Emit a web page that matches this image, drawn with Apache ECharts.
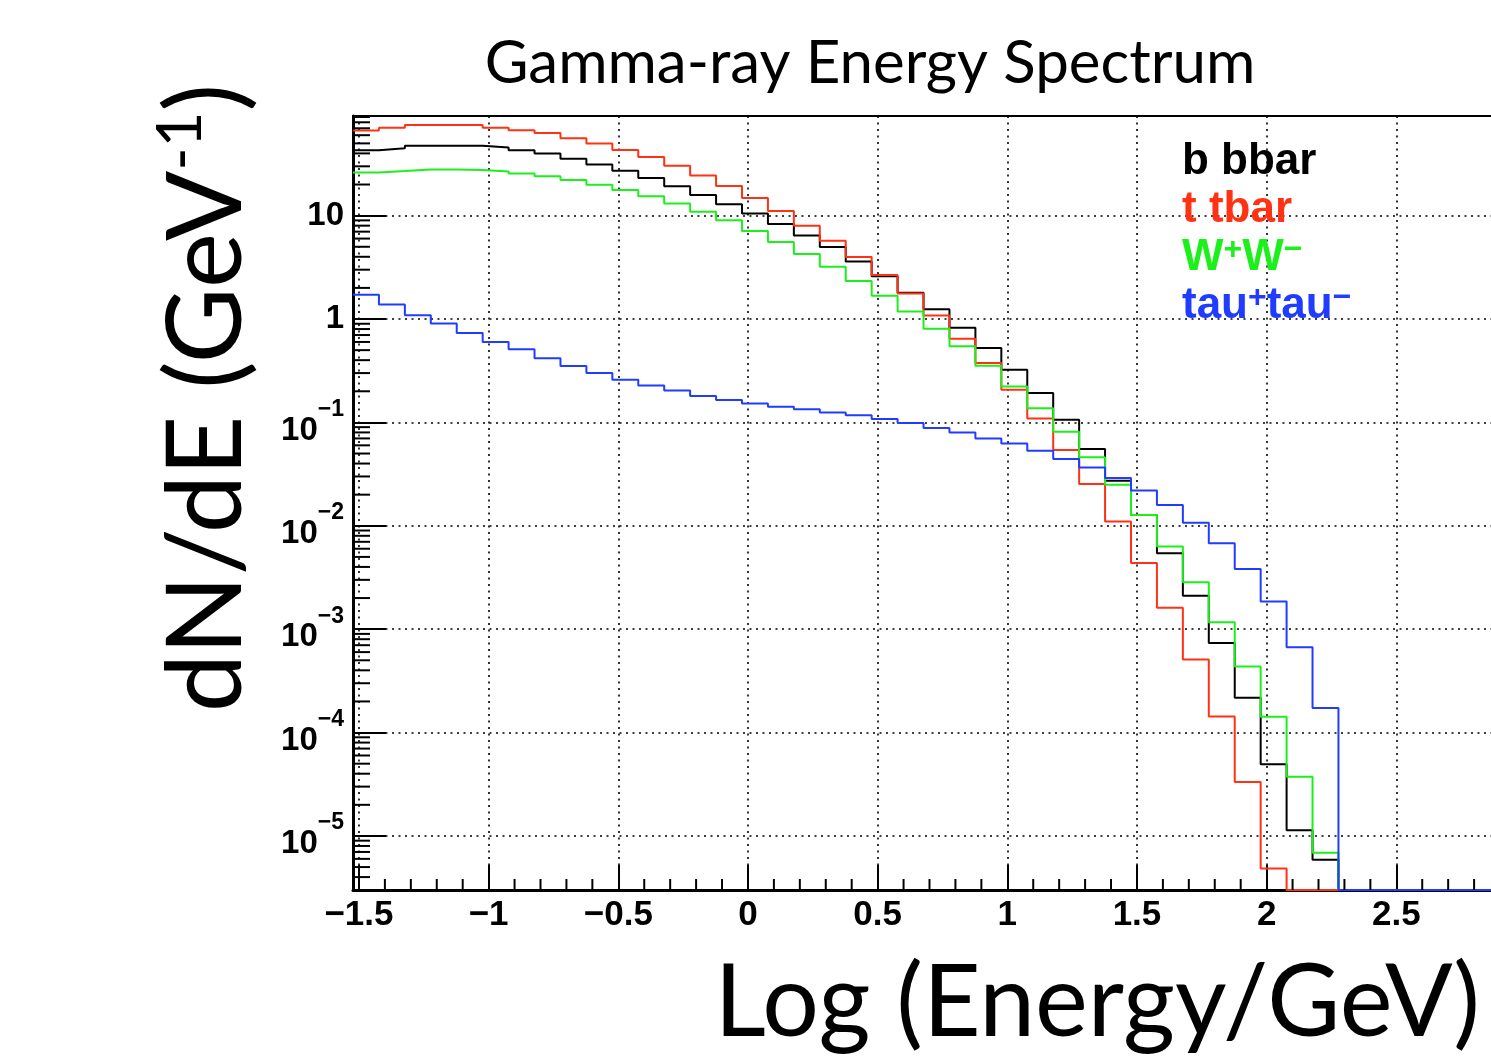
<!DOCTYPE html>
<html>
<head>
<meta charset="utf-8">
<title>Gamma-ray Energy Spectrum</title>
<script src="https://cdn.jsdelivr.net/npm/echarts@6.0.0/dist/echarts.min.js"></script>
<style>
  html, body { margin: 0; padding: 0; background: #fff; }
  #chart { width: 1491px; height: 1061px; }
</style>
</head>
<body>
<div id="chart"></div>
<script>
// histogram bin edges in log10(E/GeV): 45 bins of 0.1 starting at log10(0.03)
var binEdges = [-1.523, -1.423, -1.323, -1.223, -1.123, -1.023, -0.923, -0.823, -0.723, -0.623,
  -0.523, -0.423, -0.323, -0.223, -0.123, -0.023, 0.077, 0.177, 0.277, 0.377,
  0.477, 0.577, 0.677, 0.777, 0.877, 0.977, 1.077, 1.177, 1.277, 1.377,
  1.477, 1.577, 1.677, 1.777, 1.877, 1.977, 2.077, 2.177, 2.277, 2.377,
  2.477, 2.577, 2.677, 2.777, 2.877, 2.977];

// dN/dE per bin (0 = empty bin)
var bbbar = [42.9, 44.8, 47.5, 47.5, 47.5, 45.5, 42.9, 39.8, 35.6, 31.3,
  27.2, 23.1, 19.2, 15.8, 12.9, 10.5, 8.3, 6.44, 4.97, 3.61,
  2.59, 1.80, 1.24, 0.825, 0.524, 0.324, 0.192, 0.106, 0.0552, 0.0273,
  0.0127, 0.00542, 0.00211, 0.000733, 0.000217, 4.93e-5, 1.135e-5, 5.9e-6, 0, 0,
  0, 0, 0, 0, 0];
var ttbar = [66.7, 71.0, 75.2, 75.2, 75.2, 70.9, 66.8, 62.9, 55.9, 50.0,
  43.1, 36.9, 30.4, 24.5, 19.3, 14.8, 11.1, 8.0, 5.73, 3.98,
  2.67, 1.77, 1.08, 0.645, 0.375, 0.207, 0.109, 0.054, 0.0254, 0.0110,
  0.00437, 0.00161, 0.000510, 0.000143, 3.33e-5, 4.84e-6, 0, 0, 0, 0,
  0, 0, 0, 0, 0];
var wwbar = [26.1, 27.0, 28.0, 28.0, 27.6, 26.8, 25.6, 24.1, 22.1, 19.9,
  17.7, 15.4, 13.1, 10.9, 9.0, 7.1, 5.56, 4.26, 3.21, 2.33,
  1.68, 1.18, 0.807, 0.545, 0.354, 0.223, 0.137, 0.0813, 0.0459, 0.0250,
  0.0127, 0.0063, 0.00284, 0.00117, 0.000435, 0.000142, 3.73e-5, 6.86e-6, 0, 0,
  0, 0, 0, 0, 0];
var tautau = [1.72, 1.38, 1.09, 0.903, 0.733, 0.600, 0.509, 0.417, 0.351, 0.301,
  0.259, 0.227, 0.204, 0.180, 0.165, 0.152, 0.142, 0.134, 0.125, 0.117,
  0.108, 0.0985, 0.0881, 0.080, 0.070, 0.0626, 0.0532, 0.0442, 0.0367, 0.029,
  0.0219, 0.0159, 0.0107, 0.00678, 0.00383, 0.00185, 0.00067, 0.000173, 0, 0,
  0, 0, 0, 0, 0];

var seriesNames = ['b bbar', 't tbar', 'W+W-', 'tau+tau-'];
var seriesColors = ['#000000', '#ff3314', '#1bf01b', '#1f3cff'];

// minor tick positions on x (major ticks every 0.5 come from the axis)
var xMinorTicks = [-1.4, -1.3, -1.2, -1.1, -0.9, -0.8, -0.7, -0.6, -0.4, -0.3, -0.2, -0.1,
  0.1, 0.2, 0.3, 0.4, 0.6, 0.7, 0.8, 0.9, 1.1, 1.2, 1.3, 1.4, 1.6, 1.7, 1.8, 1.9,
  2.1, 2.2, 2.3, 2.4, 2.6, 2.7, 2.8, 2.9];
var yDecades = [-6, -5, -4, -3, -2, -1, 0, 1];
var yMinorMult = [2, 3, 4, 5, 6, 7, 8, 9];

var X_MIN = -1.523, X_MAX = 2.977;
var Y_MIN = 3e-6, Y_MAX = 92;
var FONT = 'Liberation Sans';

function histData(vals) {
  var out = [];
  for (var i = 0; i < vals.length; i++) {
    out.push([binEdges[i], vals[i] > 0 ? vals[i] : Y_MIN]);
  }
  var last = vals[vals.length - 1];
  out.push([binEdges[vals.length], last > 0 ? last : Y_MIN]);
  return out;
}

var yMinor = [];
yDecades.forEach(function (d) {
  yMinorMult.forEach(function (m) {
    var v = m * Math.pow(10, d);
    if (v > Y_MIN && v < Y_MAX) yMinor.push([X_MIN, v]);
  });
});
var xMinor = xMinorTicks.map(function (v) { return [v, Y_MIN]; });

var chart = echarts.init(document.getElementById('chart'));

var series = [bbbar, ttbar, wwbar, tautau].map(function (vals, i) {
  return {
    name: seriesNames[i],
    type: 'line',
    step: 'end',
    symbol: 'none',
    data: histData(vals),
    lineStyle: { color: seriesColors[i], width: 2 },
    itemStyle: { color: seriesColors[i] },
    z: 3 + i
  };
});

series.push({
  type: 'custom',
  data: xMinor,
  z: 10,
  renderItem: function (params, api) {
    var p = api.coord([api.value(0), api.value(1)]);
    return { type: 'line', shape: { x1: p[0], y1: p[1], x2: p[0], y2: p[1] - 11 },
      style: { stroke: '#000', lineWidth: 2 } };
  }
});
series.push({
  type: 'custom',
  data: yMinor,
  z: 10,
  renderItem: function (params, api) {
    var p = api.coord([api.value(0), api.value(1)]);
    return { type: 'line', shape: { x1: p[0], y1: p[1], x2: p[0] + 17, y2: p[1] },
      style: { stroke: '#000', lineWidth: 2 } };
  }
});

var dotted = { show: true, lineStyle: { color: '#000', width: 1.6, type: [2, 4.5] } };

var option = {
  animation: false,
  backgroundColor: '#fff',
  grid: {
    left: 353, top: 116, width: 1167, height: 774,
    outerBoundsMode: 'none', containLabel: false,
    show: true, borderColor: '#000', borderWidth: 2
  },
  xAxis: {
    type: 'value', min: X_MIN, max: X_MAX, splitNumber: 9,
    axisLine: { onZero: false, lineStyle: { color: '#000', width: 3 } },
    axisTick: { inside: true, length: 25, lineStyle: { color: '#000', width: 2 } },
    axisLabel: {
      margin: 8, color: '#000', fontFamily: FONT, fontWeight: 'bold', fontSize: 35,
      formatter: function (v) {
        var k = v / 0.5;
        if (Math.abs(k - Math.round(k)) > 1e-6) return '';
        var r = Math.round(k) * 0.5;
        if (r === 0) return '0';
        return (r < 0 ? '\u2212' : '') + Math.abs(r);
      }
    },
    splitLine: dotted
  },
  yAxis: {
    type: 'log', logBase: 10, min: Y_MIN, max: Y_MAX,
    axisLine: { show: true, onZero: false, lineStyle: { color: '#000', width: 3 } },
    axisTick: { show: true, inside: true, length: 33, lineStyle: { color: '#000', width: 2 } },
    axisLabel: {
      margin: 9, color: '#000', fontFamily: FONT, fontWeight: 'bold', fontSize: 33,
      formatter: function (v) {
        var e = Math.log10(v);
        if (Math.abs(e - Math.round(e)) > 1e-6) return '';
        e = Math.round(e);
        if (e === 0) return '1';
        if (e === 1) return '10';
        return '{b|10}{s|\u2212' + Math.abs(e) + '}';
      },
      rich: {
        b: { fontFamily: FONT, fontWeight: 'bold', fontSize: 33, color: '#000', padding: [16, 0, 0, 0] },
        s: { fontFamily: FONT, fontWeight: 'bold', fontSize: 23, color: '#000', lineHeight: 34, verticalAlign: 'top' }
      }
    },
    splitLine: dotted
  },
  legend: {
    orient: 'vertical', left: 1172, top: 133,
    itemWidth: 0, itemHeight: 0, itemGap: 0, selectedMode: false,
    data: seriesNames.map(function (n, i) {
      return { name: n, icon: 'rect', textStyle: { color: seriesColors[i] } };
    }),
    formatter: function (name) {
      if (name === 'W+W-') return 'W{sg|+}W{sg|\u2212}';
      if (name === 'tau+tau-') return 'tau{sb|+}tau{sb|\u2212}';
      return name;
    },
    textStyle: {
      fontFamily: FONT, fontWeight: 'bold', fontSize: 44, lineHeight: 48,
      rich: {
        sg: { fontFamily: FONT, fontWeight: 'bold', fontSize: 32, lineHeight: 30, verticalAlign: 'top', color: seriesColors[2] },
        sb: { fontFamily: FONT, fontWeight: 'bold', fontSize: 32, lineHeight: 30, verticalAlign: 'top', color: seriesColors[3] }
      }
    }
  },
  graphic: [
    {
      type: 'text', x: 870, y: 64,
      style: { text: 'Gamma-ray Energy Spectrum', fontFamily: 'Lato', fontSize: 60,
        fill: '#000', align: 'center', verticalAlign: 'middle' }
    },
    {
      type: 'text', x: 207, y: 398, rotation: Math.PI / 2,
      style: {
        text: '{m|dN/dE (GeV}{s|-1}{m|)}', align: 'center', verticalAlign: 'middle',
        rich: {
          m: { fontFamily: 'Lato', fontSize: 104, lineHeight: 114, fill: '#000' },
          s: { fontFamily: 'Lato', fontSize: 62, lineHeight: 72, verticalAlign: 'top', fill: '#000' }
        }
      }
    },
    {
      type: 'text', x: 1480, y: 1004,
      style: { text: 'Log (Energy/GeV)', fontFamily: 'Lato', fontSize: 100,
        fill: '#000', align: 'right', verticalAlign: 'middle' }
    }
  ],
  series: series
};

chart.setOption(option);
</script>
</body>
</html>
